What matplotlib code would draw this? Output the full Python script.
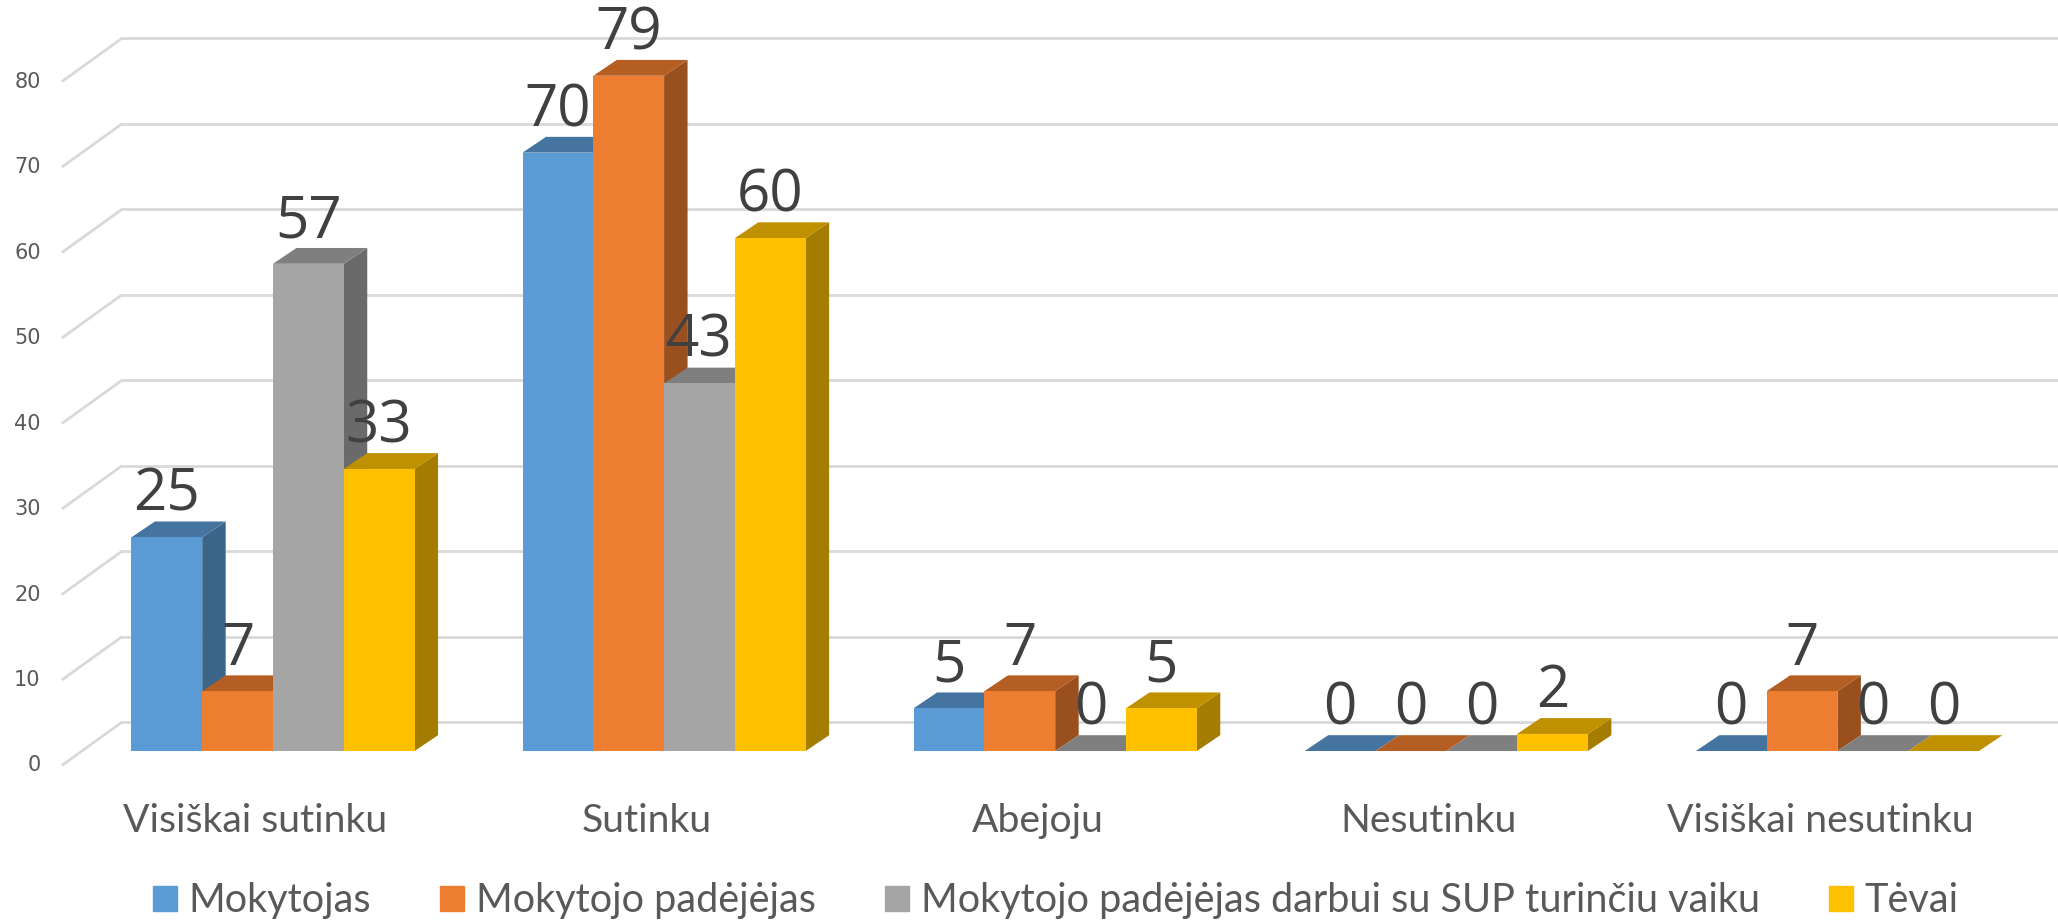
import matplotlib.pyplot as plt
from matplotlib.patches import Patch

categories = ['Visiškai sutinku', 'Sutinku', 'Abejoju', 'Nesutinku', 'Visiškai nesutinku']
series = ['Mokytojas', 'Mokytojo padėjėjas',
          'Mokytojo padėjėjas darbui su SUP turinčiu vaiku', 'Tėvai']
mokytojas = [25, 70, 5, 0, 0]
padejejas = [7, 79, 7, 0, 7]
padejejas_sup = [57, 43, 0, 0, 0]
tevai = [33, 60, 5, 2, 0]
y_ticks = [0, 10, 20, 30, 40, 50, 60, 70, 80]

values = [mokytojas, padejejas, padejejas_sup, tevai]
# front / top / side shades
front = ['#5B9BD5', '#ED7D31', '#A5A5A5', '#FFC000']
top = ['#4674A0', '#B55E23', '#7F7F7F', '#BF9000']
side = ['#3B6589', '#9A4F1E', '#6A6A6A', '#A37C00']

w = 0.181          # bar width (category units)
dx, dy = 0.060, 1.85   # bar depth offset
wall_dy = 3.38     # back wall offset
front_dy = -1.69   # front end of the diagonal gridlines
x_front, x_back = -0.540, -0.386

plt.rcParams['font.family'] = ['Lato', 'DejaVu Sans']

fig = plt.figure(figsize=(20.58, 9.23), dpi=100)
ax = fig.add_axes([0, 0, 1, 1])
ax.set_xlim(-0.698, 4.564)
ax.set_ylim(-20.12, 87.86)
ax.axis('off')

# gridlines: diagonal side wall + back wall
for t in y_ticks:
    ax.plot([x_front, x_back], [t + front_dy, t + wall_dy], color='#D9D9D9', lw=2, zorder=1,
            solid_capstyle='butt')
    ax.plot([x_back, 4.6], [t + wall_dy, t + wall_dy], color='#D9D9D9', lw=2, zorder=1)
    ax.text(-0.594, t + front_dy, str(t), ha='right', va='center', fontsize=15,
            color='#595959', family='DejaVu Sans')

z = 2
for i in range(len(categories)):
    for s in range(len(series)):
        v = values[s][i]
        xc = i + (s - 1.5) * w
        x0, x1 = xc - w / 2, xc + w / 2
        ax.fill([x1, x1 + dx, x1 + dx, x1], [0, dy, v + dy, v], color=side[s], lw=0, zorder=z)
        ax.fill([x0, x1, x1 + dx, x0 + dx], [v, v, v + dy, v + dy], color=top[s], lw=0, zorder=z)
        if v > 0:
            ax.bar(xc, v, width=w, color=front[s], lw=0, zorder=z)
        z += 1

for i in range(len(categories)):
    for s in range(len(series)):
        v = values[s][i]
        xc = i + (s - 1.5) * w
        ax.text(xc, v + 3.1, str(v), ha='center', va='baseline', fontsize=42,
                color='#404040', family='Open Sans', zorder=100)
    ax.text(i - 0.045, -8.14, categories[i], ha='center', va='center', fontsize=28.2,
            color='#595959')

handles = [Patch(color=front[s], label=series[s]) for s in range(len(series))]
fig.legend(handles=handles, loc='center', bbox_to_anchor=(0.513, 0.024), ncol=4,
           frameon=False, fontsize=28.5, labelcolor='#595959', handlelength=0.6,
           handleheight=0.6, handletextpad=0.3, columnspacing=1.75)

fig.savefig('out.png', dpi=100)
